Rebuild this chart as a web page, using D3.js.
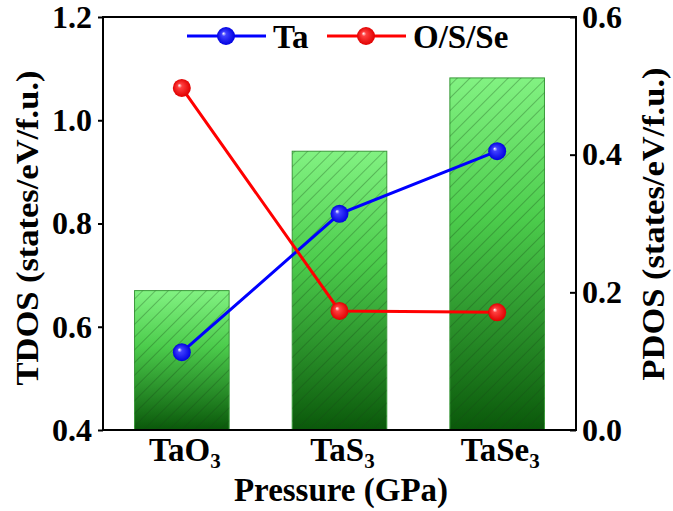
<!DOCTYPE html>
<meta charset="utf-8">
<style>
body { margin: 0; background: #fff; }
svg text { font-family: "Liberation Serif", "Times New Roman", serif !important; font-weight: bold; }
</style>
<svg width="673" height="511"></svg>
<script src="https://d3js.org/d3.v7.min.js"></script>
<script>
// data
var compounds = ["TaO3", "TaS3", "TaSe3"];
var compoundBase = ["TaO", "TaS", "TaSe"];
var tdos = [0.67, 0.94, 1.082];
var pdosTa = [0.113, 0.314, 0.405];
var pdosX = [0.497, 0.173, 0.171];
var leftTicks = [0.4, 0.6, 0.8, 1.0, 1.2];
var rightTicks = [0.0, 0.2, 0.4, 0.6];

var svg = d3.select("svg");
var m = {left: 103, right: 576, top: 17, bottom: 430};

var x = d3.scaleBand().domain(compounds).range([m.left, m.right]).paddingInner(0.4).paddingOuter(0.2);
var yL = d3.scaleLinear().domain([0.4, 1.2]).range([m.bottom, m.top]);
var yR = d3.scaleLinear().domain([0, 0.6]).range([m.bottom, m.top]);

var defs = svg.append("defs");
var grad = defs.append("linearGradient").attr("id", "barGrad")
	.attr("x1", 0).attr("y1", 0).attr("x2", 0).attr("y2", 1);
grad.append("stop").attr("offset", "0%").attr("stop-color", "#82f282");
grad.append("stop").attr("offset", "40%").attr("stop-color", "#4ccc4c");
grad.append("stop").attr("offset", "100%").attr("stop-color", "#0a580a");

var hatch = defs.append("pattern").attr("id", "hatch")
	.attr("patternUnits", "userSpaceOnUse").attr("width", 9).attr("height", 9)
	.attr("patternTransform", "rotate(45)");
hatch.append("line").attr("x1", 0).attr("y1", 0).attr("x2", 0).attr("y2", 9)
	.attr("stroke", "#174a17").attr("stroke-width", 0.9).attr("stroke-opacity", 0.7);

function ball(id, c, light) {
	var g = defs.append("radialGradient").attr("id", id)
		.attr("cx", "50%").attr("cy", "50%").attr("r", "50%")
		.attr("fx", "35%").attr("fy", "35%");
	g.append("stop").attr("offset", "0%").attr("stop-color", "#ffffff");
	g.append("stop").attr("offset", "25%").attr("stop-color", light);
	g.append("stop").attr("offset", "100%").attr("stop-color", c);
}
ball("ballBlue", "#0000e0", "#4040ff");
ball("ballRed", "#e00000", "#ff4040");

// bars
var bars = svg.append("g");
bars.selectAll("rect.fill").data(compounds).enter().append("rect")
	.attr("x", function(d) { return x(d); })
	.attr("width", x.bandwidth())
	.attr("y", function(d, i) { return yL(tdos[i]); })
	.attr("height", function(d, i) { return m.bottom - yL(tdos[i]); })
	.attr("fill", "url(#barGrad)")
	.attr("stroke", "#3a9a3a").attr("stroke-width", 1);
bars.selectAll("rect.hatch").data(compounds).enter().append("rect")
	.attr("x", function(d) { return x(d); })
	.attr("width", x.bandwidth())
	.attr("y", function(d, i) { return yL(tdos[i]); })
	.attr("height", function(d, i) { return m.bottom - yL(tdos[i]); })
	.attr("fill", "url(#hatch)");

// lines
function cx(d) { return x(d) + x.bandwidth() / 2; }
var series = [
	{vals: pdosTa, color: "#0000ff", ball: "url(#ballBlue)"},
	{vals: pdosX, color: "#ff0000", ball: "url(#ballRed)"}
];
var line = d3.line();
series.forEach(function(s) {
	var pts = compounds.map(function(c, i) { return [cx(c), yR(s.vals[i])]; });
	svg.append("path").attr("d", line(pts)).attr("fill", "none")
		.attr("stroke", s.color).attr("stroke-width", 3);
	svg.selectAll(null).data(pts).enter().append("circle")
		.attr("cx", function(p) { return p[0]; }).attr("cy", function(p) { return p[1]; })
		.attr("r", 9).attr("fill", s.ball);
});

// axes
var axL = svg.append("g").attr("transform", "translate(" + m.left + ",0)")
	.call(d3.axisLeft(yL).tickValues(leftTicks).tickFormat(d3.format(".1f")).tickSize(5).tickPadding(6));
var axR = svg.append("g").attr("transform", "translate(" + m.right + ",0)")
	.call(d3.axisRight(yR).tickValues(rightTicks).tickFormat(d3.format(".1f")).tickSize(-6).tickPadding(6));
[axL, axR].forEach(function(a) {
	a.attr("font-family", null).attr("font-size", null);
	a.select(".domain").remove();
	a.selectAll("line").attr("stroke", "#000").attr("stroke-width", 2);
	a.selectAll("text").attr("font-size", 32).attr("fill", "#000");
});

svg.append("rect").attr("x", m.left).attr("y", m.top)
	.attr("width", m.right - m.left).attr("height", m.bottom - m.top)
	.attr("fill", "none").attr("stroke", "#000").attr("stroke-width", 2);

// x labels with subscripts
compounds.forEach(function(c, i) {
	var t = svg.append("text").attr("x", cx(c) + 3).attr("y", 461)
		.attr("text-anchor", "middle").attr("font-size", 33);
	t.append("tspan").text(compoundBase[i]);
	t.append("tspan").attr("font-size", 21).attr("dy", 7).text("3");
});

svg.append("text").attr("x", 341).attr("y", 501).attr("text-anchor", "middle")
	.attr("font-size", 33).text("Pressure (GPa)");

svg.append("text").attr("transform", "translate(38,228) rotate(-90)")
	.attr("text-anchor", "middle").attr("font-size", 31)
	.attr("textLength", 315).attr("lengthAdjust", "spacingAndGlyphs")
	.text("TDOS (states/eV/f.u.)");
svg.append("text").attr("transform", "translate(664,224) rotate(-90)")
	.attr("text-anchor", "middle").attr("font-size", 31)
	.attr("textLength", 313).attr("lengthAdjust", "spacingAndGlyphs")
	.text("PDOS (states/eV/f.u.)");

// legend
var legend = [
	{name: "Ta", x1: 187, color: "#0000ff", ball: "url(#ballBlue)"},
	{name: "O/S/Se", x1: 327, color: "#ff0000", ball: "url(#ballRed)"}
];
legend.forEach(function(l) {
	svg.append("line").attr("x1", l.x1).attr("x2", l.x1 + 79).attr("y1", 36).attr("y2", 36)
		.attr("stroke", l.color).attr("stroke-width", 3);
	svg.append("circle").attr("cx", l.x1 + 39).attr("cy", 36).attr("r", 9).attr("fill", l.ball);
	svg.append("text").attr("x", l.x1 + 86).attr("y", 48).attr("font-size", 33).text(l.name);
});
</script>
